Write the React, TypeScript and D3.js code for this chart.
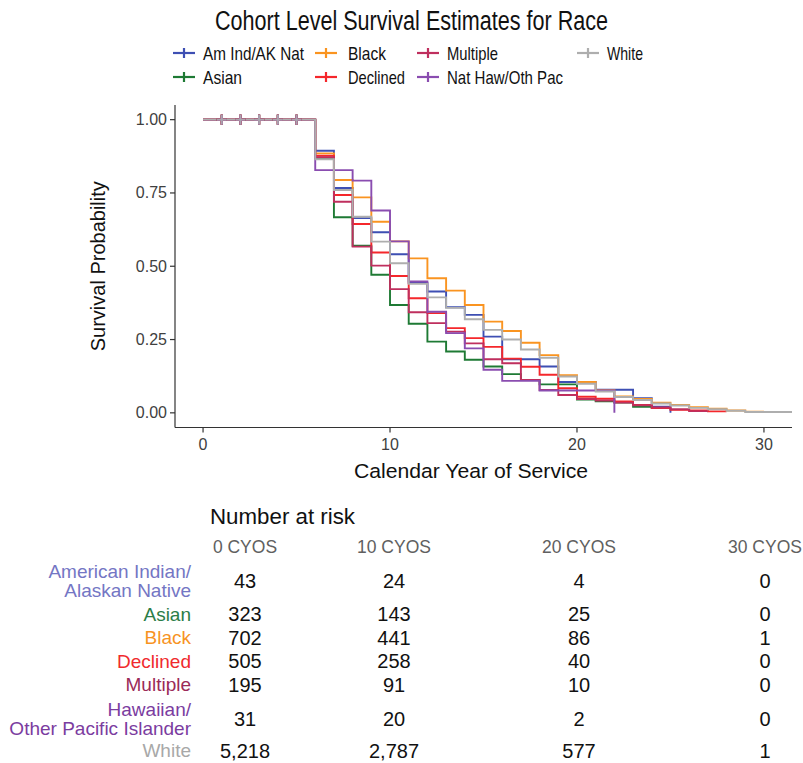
import React from "react";
import * as d3 from "d3";

// ---------- data ----------
const seriesNames = ["Am Ind/AK Nat", "Asian", "Black", "Declined", "Multiple", "Nat Haw/Oth Pac", "White"];
const tableLabels = [
  ["American Indian/", "Alaskan Native"],
  ["Asian"],
  ["Black"],
  ["Declined"],
  ["Multiple"],
  ["Hawaiian/", "Other Pacific Islander"],
  ["White"],
];
// step times (calendar year of service) at which survival value applies
const stepTimes = [0, 6, 7, 8, 9, 10, 11, 12, 13, 14, 15, 16, 17, 18, 19, 20, 21, 22, 23, 24, 25, 26, 27, 28, 29];
const survAmInd = [1, 0.894, 0.767, 0.664, 0.616, 0.541, 0.443, 0.414, 0.36, 0.334, 0.26, 0.183, 0.183, 0.158, 0.105, 0.105, 0.079, 0.079, 0.05, 0.021, 0];
const survAsian = [1, 0.867, 0.667, 0.57, 0.471, 0.368, 0.304, 0.243, 0.209, 0.181, 0.158, 0.132, 0.112, 0.097, 0.097, 0.045, 0.039, 0.035, 0.021, 0.016];
const survBlack = [1, 0.885, 0.794, 0.735, 0.652, 0.585, 0.527, 0.459, 0.417, 0.368, 0.311, 0.279, 0.239, 0.197, 0.128, 0.105, 0.077, 0.056, 0.047, 0.035, 0.027, 0.019, 0.014, 0.008, 0.004];
const survDeclined = [1, 0.877, 0.743, 0.644, 0.547, 0.467, 0.391, 0.34, 0.289, 0.255, 0.225, 0.185, 0.157, 0.13, 0.084, 0.055, 0.048, 0.039, 0.027, 0.016, 0.01, 0.008, 0.005];
const survMultiple = [1, 0.872, 0.72, 0.567, 0.502, 0.422, 0.343, 0.306, 0.277, 0.237, 0.183, 0.169, 0.112, 0.078, 0.061, 0.047, 0.042, 0.035, 0.026, 0.018, 0.012, 0.006];
const survNatHaw = [1, 0.828, 0.828, 0.792, 0.69, 0.585, 0.448, 0.345, 0.272, 0.22, 0.147, 0.109, 0.109, 0.076, 0.076, 0.076, 0.076, 0];
const survWhite = [1, 0.865, 0.76, 0.669, 0.584, 0.51, 0.44, 0.394, 0.358, 0.319, 0.283, 0.25, 0.216, 0.188, 0.124, 0.099, 0.073, 0.054, 0.044, 0.032, 0.025, 0.017, 0.012, 0.007, 0.003];
const endTimes = [25, 25, 30, 28, 27, 22, 31.5];
const censorTimes = [1, 2, 3, 4, 5];

const xTicks = [0, 10, 20, 30];
const yTicks = [0, 0.25, 0.5, 0.75, 1];
const riskHeaders = ["0 CYOS", "10 CYOS", "20 CYOS", "30 CYOS"];
const riskAmInd = [43, 24, 4, 0];
const riskAsian = [323, 143, 25, 0];
const riskBlack = [702, 441, 86, 1];
const riskDeclined = [505, 258, 40, 0];
const riskMultiple = [195, 91, 10, 0];
const riskNatHaw = [31, 20, 2, 0];
const riskWhite = [5218, 2787, 577, 1];

// ---------- styles / layout ----------
const lineColors = ["#3E4FB3", "#1E7A34", "#FA9420", "#F5272B", "#BF2F5E", "#8A4DB0", "#AEAEAE"];
const labelColors = ["#7476C4", "#2B7D47", "#F7931F", "#F02A2D", "#9B2A58", "#7B3C9F", "#A8A8A8"];
const legendTextWidths = [101, 39, 38, 57, 51, 116, 36];
const legendColX = [[173, 203], [315, 348], [417, 447], [577, 607]];
const legendRowY = [53, 77];
const tableColX = [245, 394, 579, 765];
const tableRowY = [581, 614, 637.5, 661, 684.5, 718.5, 750.5];
const FONT = "'Liberation Sans', Arial, sans-serif";

const survAll = [survAmInd, survAsian, survBlack, survDeclined, survMultiple, survNatHaw, survWhite];
const riskAll = [riskAmInd, riskAsian, riskBlack, riskDeclined, riskMultiple, riskNatHaw, riskWhite];

export default function App() {
  const left = 175, right = 792, top = 105, bottom = 427.5;
  const x = d3.scaleLinear().domain([-1.5, 31.5]).range([left, right]);
  const y = d3.scaleLinear().domain([-0.05, 1.05]).range([bottom, top]);
  const line = d3
    .line<[number, number]>()
    .x((d) => x(d[0]))
    .y((d) => y(d[1]))
    .curve(d3.curveStepAfter);
  const fmt = d3.format(",");

  const paths = survAll.map((vals, i) => {
    const pts: [number, number][] = vals.map((v, j) => [stepTimes[j], v]);
    pts.push([endTimes[i], vals[vals.length - 1]]);
    return line(pts) || "";
  });

  return (
    <svg
      width={803}
      height={763}
      style={{ position: "absolute", left: 0, top: 0, background: "#fff" }}
      fontFamily={FONT}
    >
      <rect width={803} height={763} fill="#fff" />
      {/* title */}
      <text x={215} y={30} fontSize={27} fill="#111" textLength={393} lengthAdjust="spacingAndGlyphs">
        Cohort Level Survival Estimates for Race
      </text>

      {/* legend */}
      {seriesNames.map((name, i) => {
        const col = Math.floor(i / 2);
        const row = i % 2;
        const [sx, tx] = legendColX[col];
        const cy = legendRowY[row];
        return (
          <g key={name}>
            <line x1={sx} x2={sx + 22} y1={cy} y2={cy} stroke={lineColors[i]} strokeWidth={2.2} />
            <line x1={sx + 11} x2={sx + 11} y1={cy - 5} y2={cy + 5} stroke={lineColors[i]} strokeWidth={2.2} />
            <text
              x={tx}
              y={cy + 6.5}
              fontSize={18.5}
              fill="#111"
              textLength={legendTextWidths[i]}
              lengthAdjust="spacingAndGlyphs"
            >
              {name}
            </text>
          </g>
        );
      })}

      {/* survival curves */}
      {paths.map((d, i) => (
        <path key={i} d={d} fill="none" stroke={lineColors[i]} strokeWidth={1.9} />
      ))}

      {/* censor marks */}
      {survAll.map((_, i) =>
        censorTimes.map((t) => (
          <g key={`${i}-${t}`} stroke={lineColors[i]} strokeWidth={2} opacity={i === 6 ? 0.9 : 1}>
            <line x1={x(t) - 5} x2={x(t) + 5} y1={y(1)} y2={y(1)} />
            <line x1={x(t)} x2={x(t)} y1={y(1) - 5} y2={y(1) + 5} />
          </g>
        ))
      )}

      {/* axes */}
      <line x1={left} x2={left} y1={top} y2={bottom} stroke="#333" strokeWidth={1.2} />
      <line x1={left} x2={right} y1={bottom} y2={bottom} stroke="#333" strokeWidth={1.2} />
      {yTicks.map((t) => (
        <g key={t}>
          <line x1={left - 5} x2={left} y1={y(t)} y2={y(t)} stroke="#333" strokeWidth={1.2} />
          <text x={left - 8} y={y(t)} fontSize={16} fill="#404040" textAnchor="end" dominantBaseline="central">
            {t.toFixed(2)}
          </text>
        </g>
      ))}
      {xTicks.map((t) => (
        <g key={t}>
          <line x1={x(t)} x2={x(t)} y1={bottom} y2={bottom + 5} stroke="#333" strokeWidth={1.2} />
          <text x={x(t)} y={bottom + 17} fontSize={16} fill="#404040" textAnchor="middle" dominantBaseline="central">
            {t}
          </text>
        </g>
      ))}
      <text
        x={471}
        y={470}
        fontSize={20.5}
        fill="#111"
        textAnchor="middle"
        dominantBaseline="central"
        textLength={234}
        lengthAdjust="spacingAndGlyphs"
      >
        Calendar Year of Service
      </text>
      <text
        transform={`translate(98,${(top + bottom) / 2}) rotate(-90)`}
        fontSize={20}
        fill="#111"
        textAnchor="middle"
        dominantBaseline="central"
      >
        Survival Probability
      </text>

      {/* number at risk table */}
      <text x={210} y={517} fontSize={21.5} fill="#111" dominantBaseline="central" textLength={145} lengthAdjust="spacingAndGlyphs">
        Number at risk
      </text>
      {riskHeaders.map((h, j) => (
        <text key={h} x={tableColX[j]} y={547} fontSize={17.5} fill="#606060" textAnchor="middle" dominantBaseline="central">
          {h}
        </text>
      ))}
      {tableLabels.map((lines, i) => (
        <g key={i}>
          {lines.map((ln, k) => (
            <text
              key={k}
              x={191}
              y={tableRowY[i] + (lines.length === 2 ? (k === 0 ? -9.5 : 9.5) : 0)}
              fontSize={19}
              fill={labelColors[i]}
              textAnchor="end"
              dominantBaseline="central"
            >
              {ln}
            </text>
          ))}
          {riskAll[i].map((v, j) => (
            <text
              key={j}
              x={tableColX[j]}
              y={tableRowY[i]}
              fontSize={20}
              fill="#111"
              textAnchor="middle"
              dominantBaseline="central"
            >
              {fmt(v)}
            </text>
          ))}
        </g>
      ))}
    </svg>
  );
}
